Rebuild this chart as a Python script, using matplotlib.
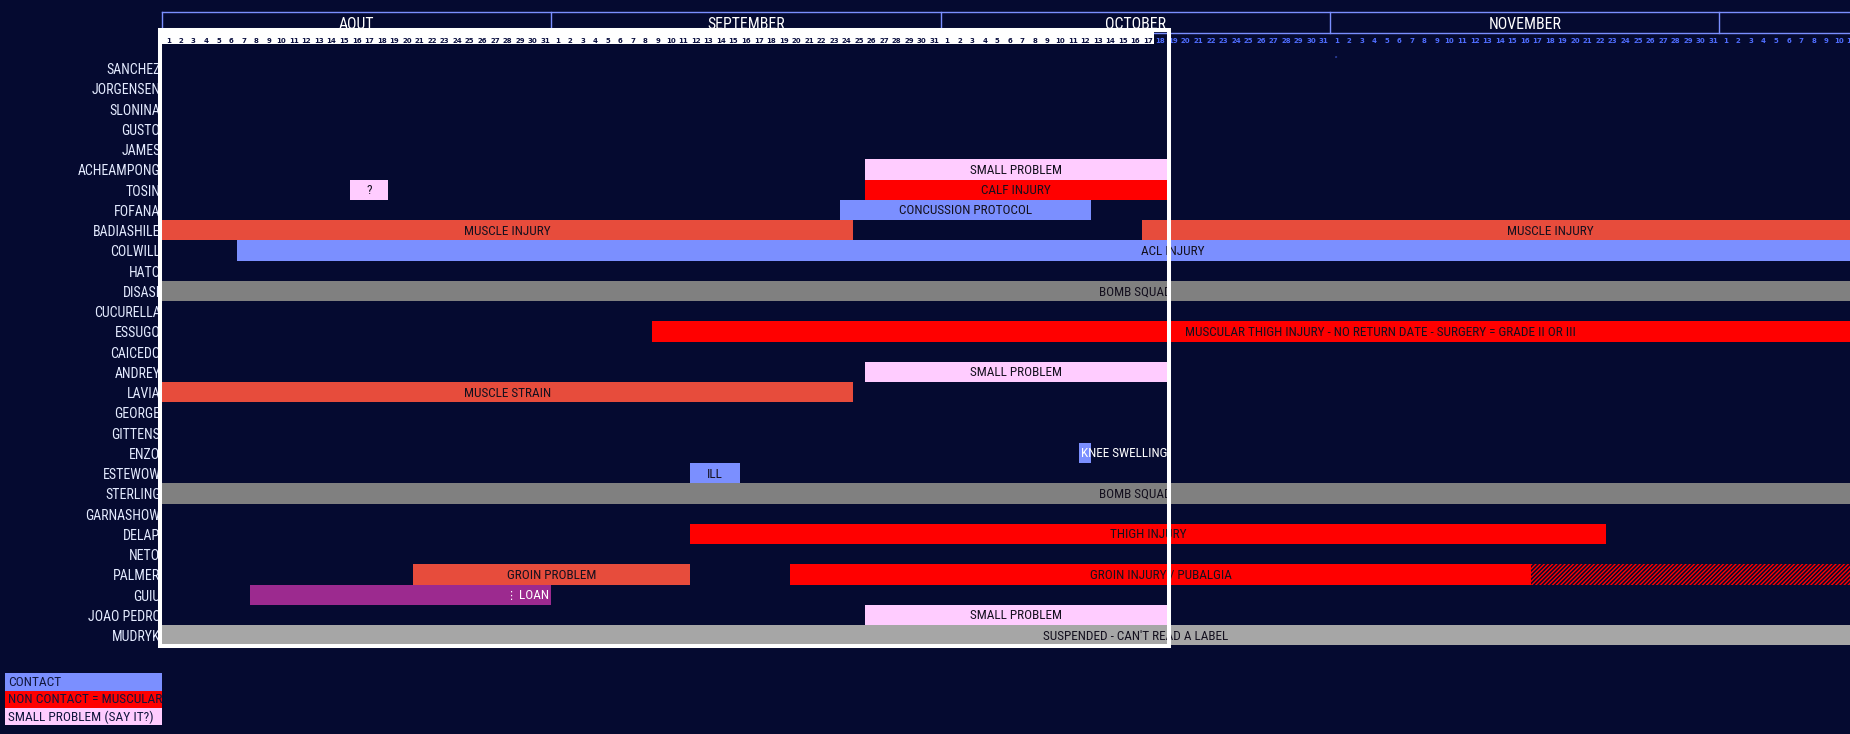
import matplotlib
matplotlib.use("Agg")
import matplotlib.pyplot as plt
from matplotlib.patches import Rectangle
from matplotlib import font_manager as fm

# ---------------- data ----------------
players = ["SANCHEZ", "JORGENSEN", "SLONINA", "GUSTO", "JAMES", "ACHEAMPONG", "TOSIN",
           "FOFANA", "BADIASHILE", "COLWILL", "HATO", "DISASI", "CUCURELLA", "ESSUGO",
           "CAICEDO", "ANDREY", "LAVIA", "GEORGE", "GITTENS", "ENZO", "ESTEWOW",
           "STERLING", "GARNASHOW", "DELAP", "NETO", "PALMER", "GUIU", "JOAO PEDRO",
           "MUDRYK"]

month_labels = ["AOUT", "SEPTEMBER", "OCTOBER", "NOVEMBER", ""]
days_per_month = [31, 31, 31, 31, 31]
today_index = 79          # Oct 18 (0 = Aug 1)

# day index: 0 = Aug 1, 31 = Sep 1, 62 = Oct 1, 93 = Nov 1, 124 = Dec 1
bar_player = ["ACHEAMPONG", "TOSIN", "TOSIN", "FOFANA", "BADIASHILE", "BADIASHILE",
              "COLWILL", "DISASI", "ESSUGO", "ANDREY", "LAVIA", "ENZO", "ESTEWOW",
              "STERLING", "DELAP", "PALMER", "PALMER", "PALMER", "GUIU", "JOAO PEDRO",
              "MUDRYK"]
bar_start = [56, 15, 56, 54, 0, 78, 6, 0, 39, 56, 0, 73, 42, 0, 42, 20, 50, 109, 7, 56, 0]
bar_end = [80, 18, 80, 74, 55, 143, 155, 155, 155, 80, 55, 74, 46, 155, 115, 42, 109, 155,
           31, 80, 155]
bar_label = ["SMALL PROBLEM", "?", "CALF INJURY", "CONCUSSION PROTOCOL", "MUSCLE INJURY",
             "MUSCLE INJURY", "ACL INJURY", "BOMB SQUAD",
             "MUSCULAR THIGH INJURY - NO RETURN DATE - SURGERY = GRADE II OR III",
             "SMALL PROBLEM", "MUSCLE STRAIN", "KNEE SWELLING", "ILL", "BOMB SQUAD",
             "THIGH INJURY", "GROIN PROBLEM", "GROIN INJURY / PUBALGIA", "",
             "LOAN", "SMALL PROBLEM", "SUSPENDED - CAN'T READ A LABEL"]
bar_kind = ["small", "small", "muscular", "contact", "injury", "injury", "contact",
            "squad", "muscular", "small", "injury", "contact", "contact", "squad",
            "muscular", "injury", "muscular", "expected", "loan", "small", "suspended"]

legend_labels = ["CONTACT", "NON CONTACT = MUSCULAR", "SMALL PROBLEM (SAY IT?)"]
legend_kinds = ["contact", "muscular", "small"]

# ---------------- style ----------------
BG = "#050a30"
kind_color = {"contact": "#7b8fff", "muscular": "#ff0000", "small": "#ffccff",
              "injury": "#e74c3c", "squad": "#808080", "suspended": "#a6a6a6",
              "loan": "#9c2a8f", "expected": BG}
LINE_BLUE = "#7b8fff"
DAY_BLUE = "#4f6dff"
FONT = ["Liberation Sans", "DejaVu Sans"]
plt.rcParams["font.family"] = FONT
plt.rcParams["hatch.linewidth"] = 1.0


def find_condensed():
    """Look for an installed narrow / condensed regular sans face."""
    prefs = ["liberation sans narrow", "roboto condensed", "dejavu sans condensed",
             "open sans condensed", "noto sans condensed", "condensed", "narrow"]
    best, best_rank = None, 99
    for f in fm.fontManager.ttflist:
        if f.style != "normal":
            continue
        w = f.weight if isinstance(f.weight, int) else (400 if f.weight in ("normal", "regular", "book") else 700)
        if w not in (400,):
            continue
        key = (f.name + " " + str(f.stretch) + " " + f.fname.split("/")[-1]).lower()
        if "mono" in key or "serif" in key and "sans" not in key:
            continue
        is_cond = ("narrow" in key or "condensed" in key or "semicondensed" in key)
        if not is_cond:
            continue
        for rank, p in enumerate(prefs):
            if all(tok in key for tok in p.split()):
                if rank < best_rank:
                    best, best_rank = f.fname, rank
                break
    return best


cond_path = find_condensed()
if cond_path:
    COND = fm.FontProperties(fname=cond_path)
    SCALE = 1.0
else:
    COND = fm.FontProperties(family="Liberation Sans")
    SCALE = 0.86


def fp(size):
    p = COND.copy()
    p.set_size(size * SCALE)
    return p


W, H, DPI = 1850, 734, 100
X0, PXD = 162.0, 12.56        # pixel of day 0, pixels per day
Y0, PXR = 58.0, 20.25         # pixel of first row top, pixels per row

fig = plt.figure(figsize=(W / DPI, H / DPI), dpi=DPI, facecolor=BG)
ax = fig.add_axes([0, 0, 1, 1])
ax.set_facecolor(BG)
ax.set_xlim(-X0 / PXD, (W - X0) / PXD)
ax.set_ylim((H - Y0) / PXR, -Y0 / PXR)
ax.axis("off")
renderer = fig.canvas.get_renderer()


def py(p):
    return (p - Y0) / PXR


def px(p):
    return (p - X0) / PXD


row_of = {p: i for i, p in enumerate(players)}

# ---------------- bars ----------------
for p, s, e, lab, k in zip(bar_player, bar_start, bar_end, bar_label, bar_kind):
    r = row_of[p]
    if k == "expected":
        ax.barh(r + 0.5, e - s, left=s, height=1.0, color=BG, edgecolor="#ff0000",
                hatch="////////", linewidth=0, zorder=2)
    else:
        ax.barh(r + 0.5, e - s, left=s, height=1.0, color=kind_color[k],
                linewidth=0, zorder=2)
    if not lab:
        continue
    if k == "loan":
        t = ax.text(e - 0.15, r + 0.55, lab, ha="right", va="center",
                    fontproperties=fp(9.5), color="white", zorder=3)
        bb = t.get_window_extent(renderer)
        x_left = ax.transData.inverted().transform((bb.x0 - 3, 0))[0]
        ax.text(x_left, r + 0.55, "\u22ee", ha="right", va="center", fontsize=8,
                color="white", zorder=3, family=["DejaVu Sans"])
    elif e - s <= 1:
        ax.text(s + 0.2, r + 0.55, lab, ha="left", va="center", fontproperties=fp(9.5),
                color="white", zorder=3)
    else:
        ax.text((s + e) / 2, r + 0.55, lab, ha="center", va="center",
                fontproperties=fp(9.5), color="#14101e", zorder=3)

# ---------------- player names ----------------
for i, p in enumerate(players):
    ax.text(px(160.5), i + 0.6, p, ha="right", va="center", fontproperties=fp(10),
            color="#e4ebff", zorder=3)

# ---------------- month header ----------------
total_days = sum(days_per_month)
top, bot = py(11.7), py(33.0)
ax.plot([0, total_days], [top, top], color=LINE_BLUE, lw=1.0, zorder=3)
ax.plot([0, total_days], [bot, bot], color=LINE_BLUE, lw=1.0, zorder=3)
start = 0
for nd, lab in zip(days_per_month, month_labels):
    ax.plot([start, start], [top, bot], color=LINE_BLUE, lw=1.0, zorder=3)
    ax.text(start + nd / 2, py(24.5), lab, ha="center", va="center",
            fontproperties=fp(11.3), color="white", zorder=3)
    start += nd

# white frame + day band (past days up to yesterday)
band_top, band_bot = py(30.0), py(43.7)
ax.add_patch(Rectangle((px(160), band_top), today_index - px(160), band_bot - band_top,
                       facecolor="white", edgecolor="none", zorder=4))
ax.add_patch(Rectangle((px(160), band_top), px(1168.5) - px(160), py(645.5) - band_top,
                       facecolor="none", edgecolor="white", lw=2.9, zorder=6))

# day numbers
idx = 0
for nd in days_per_month:
    for d in range(1, nd + 1):
        col = "#0b1040" if idx < today_index else DAY_BLUE
        ax.text(idx + 0.5, py(40.6), str(d), ha="center", va="center", fontsize=5,
                fontweight="bold", color=col, zorder=5, family=["DejaVu Sans"],
                clip_on=True)
        idx += 1

ax.text(93.5, py(56.5), "o", ha="center", va="center", fontsize=3, color=DAY_BLUE,
        zorder=3)

# ---------------- legend ----------------
ly = 673.3
for lab, k in zip(legend_labels, legend_kinds):
    ax.add_patch(Rectangle((px(5), py(ly)), px(162) - px(5), 17.2 / PXR,
                           facecolor=kind_color[k], edgecolor="none", zorder=3))
    ax.text(px(8.5), py(ly + 9.3), lab, ha="left", va="center", fontproperties=fp(9.6),
            color="#10163c", zorder=4)
    ly += 17.2

fig.savefig("out.png", dpi=DPI, facecolor=BG)
